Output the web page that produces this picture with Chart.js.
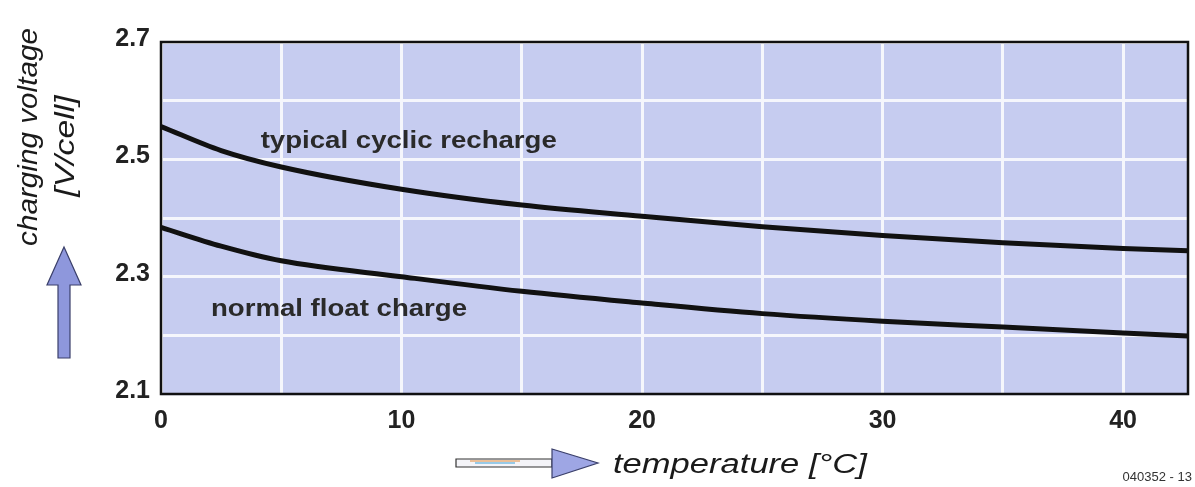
<!DOCTYPE html>
<html>
<head>
<meta charset="utf-8">
<script src="https://cdn.jsdelivr.net/npm/chart.js@4"></script>
<style>
html,body{margin:0;padding:0;background:#fff;}
#wrap{width:1195px;height:487px;position:relative;}
</style>
</head>
<body>
<div id="wrap"><canvas id="c" width="1195" height="487"></canvas></div>
<script>
// ---- data ----
const temperatures = [0, 2.5, 5, 10, 15, 20, 25, 30, 35, 40, 42.7];
const cyclicRecharge = [2.556, 2.515, 2.487, 2.449, 2.422, 2.403, 2.385, 2.370, 2.358, 2.348, 2.344];
const floatCharge    = [2.384, 2.352, 2.327, 2.300, 2.275, 2.255, 2.237, 2.224, 2.214, 2.204, 2.199];
const xGridValues = [0, 5, 10, 15, 20, 25, 30, 35, 40];
const xTickLabels = ['0', '10', '20', '30', '40'];
const yGridValues = [2.1, 2.2, 2.3, 2.4, 2.5, 2.6, 2.7];
const yTickLabels = ['2.1', '2.3', '2.5', '2.7'];
const seriesNames = ['typical cyclic recharge', 'normal float charge'];

const toPts = (xs, ys) => xs.map((x, i) => ({x: x, y: ys[i]}));

function stretchedText(ctx, text, x, y, sx, rot, align) {
  ctx.save();
  ctx.translate(x, y);
  if (rot) ctx.rotate(rot);
  ctx.scale(sx, 1);
  ctx.textAlign = align || 'center';
  ctx.textBaseline = 'middle';
  ctx.fillText(text, 0, 0);
  ctx.restore();
}

const decor = {
  id: 'decor',
  beforeDraw(chart) {
    const {ctx, chartArea: a} = chart;
    ctx.save();
    ctx.fillStyle = 'rgb(198,204,240)';
    ctx.fillRect(a.left, a.top, a.right - a.left, a.bottom - a.top);
    ctx.restore();
  },
  afterDraw(chart) {
    const {ctx, chartArea: a, scales} = chart;
    ctx.save();
    // border
    ctx.strokeStyle = '#111';
    ctx.lineWidth = 2.5;
    ctx.strokeRect(a.left, a.top, a.right - a.left, a.bottom - a.top);

    // series annotations
    ctx.fillStyle = '#2a2a2a';
    ctx.font = 'bold 24px "Liberation Sans", Arial, sans-serif';
    stretchedText(ctx, seriesNames[0], scales.x.getPixelForValue(10.3), scales.y.getPixelForValue(2.53), 1.15);
    stretchedText(ctx, seriesNames[1], scales.x.getPixelForValue(7.4), scales.y.getPixelForValue(2.245), 1.15);

    // y title (rotated)
    ctx.fillStyle = '#1a1a1a';
    ctx.font = 'italic 27px "Liberation Sans", Arial, sans-serif';
    stretchedText(ctx, 'charging voltage', 29, 137, 1.1, -Math.PI / 2);
    stretchedText(ctx, '[V/cell]', 66, 146, 1.25, -Math.PI / 2);

    // up arrow
    ctx.fillStyle = '#8e97dc';
    ctx.strokeStyle = '#3a3f6a';
    ctx.lineWidth = 1.2;
    ctx.beginPath();
    ctx.moveTo(64, 247);
    ctx.lineTo(81, 285);
    ctx.lineTo(70, 285);
    ctx.lineTo(70, 358);
    ctx.lineTo(58, 358);
    ctx.lineTo(58, 285);
    ctx.lineTo(47, 285);
    ctx.closePath();
    ctx.fill();
    ctx.stroke();

    // right arrow for x title
    ctx.fillStyle = '#f4f4f8';
    ctx.strokeStyle = '#333';
    ctx.lineWidth = 1.2;
    ctx.beginPath();
    ctx.rect(456, 459, 96, 8);
    ctx.fill(); ctx.stroke();
    ctx.strokeStyle = '#e08a3a';
    ctx.beginPath(); ctx.moveTo(470, 461); ctx.lineTo(520, 461); ctx.stroke();
    ctx.strokeStyle = '#3aa0d8';
    ctx.beginPath(); ctx.moveTo(475, 463); ctx.lineTo(515, 463); ctx.stroke();
    ctx.fillStyle = '#9ea6e4';
    ctx.strokeStyle = '#3a3f6a';
    ctx.beginPath();
    ctx.moveTo(552, 449);
    ctx.lineTo(598, 463);
    ctx.lineTo(552, 478);
    ctx.closePath();
    ctx.fill(); ctx.stroke();

    // x title
    ctx.fillStyle = '#1a1a1a';
    ctx.font = 'italic 27px "Liberation Sans", Arial, sans-serif';
    stretchedText(ctx, 'temperature [\u00B0C]', 613, 465, 1.28, 0, 'left');

    // figure code
    ctx.font = '13px "Liberation Sans", Arial, sans-serif';
    ctx.fillStyle = '#333';
    ctx.textAlign = 'right';
    ctx.textBaseline = 'middle';
    ctx.fillText('040352 - 13', 1192, 477);
    ctx.restore();
  }
};

new Chart(document.getElementById('c'), {
  type: 'line',
  data: {
    datasets: [
      {label: seriesNames[0], data: toPts(temperatures, cyclicRecharge), borderColor: '#111', borderWidth: 5,
       pointRadius: 0, cubicInterpolationMode: 'monotone', fill: false},
      {label: seriesNames[1], data: toPts(temperatures, floatCharge), borderColor: '#111', borderWidth: 5,
       pointRadius: 0, cubicInterpolationMode: 'monotone', fill: false}
    ]
  },
  options: {
    responsive: false,
    animation: false,
    layout: {padding: {left: 0, right: 7, top: 42, bottom: 0}},
    plugins: {legend: {display: false}, tooltip: {enabled: false}},
    scales: {
      x: {
        type: 'linear', min: 0, max: 42.7,
        afterBuildTicks: s => { s.ticks = xGridValues.map(v => ({value: v})); },
        afterFit: s => { s.height = 93; },
        grid: {color: '#f5f6fc', lineWidth: 3, drawTicks: false},
        border: {display: false},
        ticks: {
          padding: 12, color: '#222', maxRotation: 0, autoSkip: false,
          font: {family: '"Liberation Sans", Arial, sans-serif', size: 25, weight: 'bold'},
          callback: v => { const s = String(Math.round(v)); return xTickLabels.includes(s) && Math.abs(v - Math.round(v)) < 1e-6 ? s : ''; }
        }
      },
      y: {
        type: 'linear', min: 2.1, max: 2.7,
        afterBuildTicks: s => { s.ticks = yGridValues.map(v => ({value: v})); },
        afterFit: s => { s.width = 161; },
        grid: {color: '#f5f6fc', lineWidth: 3, drawTicks: false},
        border: {display: false},
        ticks: {
          padding: 11, color: '#222', autoSkip: false, labelOffset: -3,
          font: {family: '"Liberation Sans", Arial, sans-serif', size: 25, weight: 'bold'},
          callback: v => { const s = Number(v).toFixed(1); return yTickLabels.includes(s) ? s : ''; }
        }
      }
    }
  },
  plugins: [decor]
});
</script>
</body>
</html>
